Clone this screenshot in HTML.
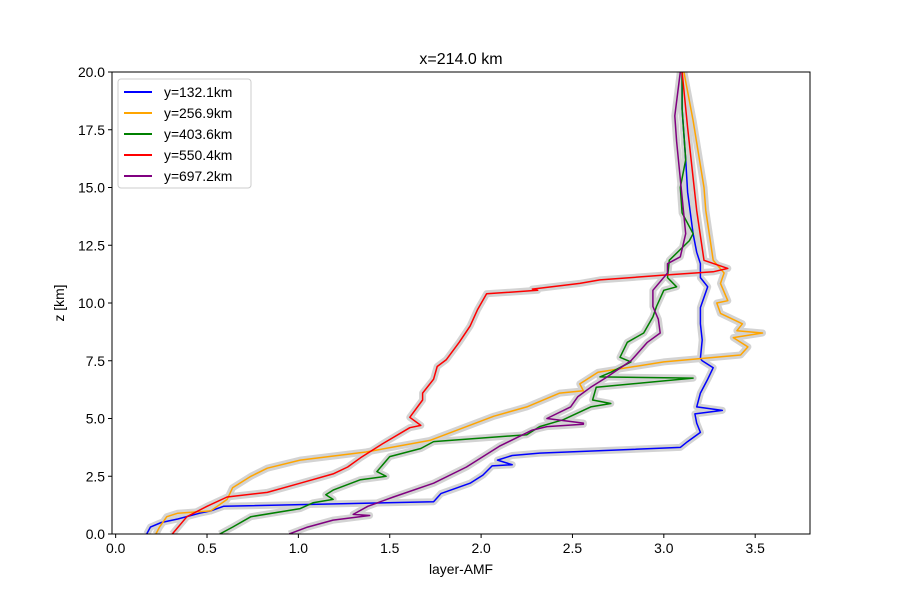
<!DOCTYPE html>
<html><head><meta charset="utf-8">
<style>
body{margin:0;background:#fff;}
svg{display:block;font-family:"Liberation Sans","DejaVu Sans",sans-serif;}
</style></head>
<body>
<svg id="chart" width="900" height="600" viewBox="0 0 900 600">
  <rect width="900" height="600" fill="#fff"/>
  <text x="461" y="64" font-size="16" text-anchor="middle">x=214.0 km</text>
  <g id="bands"></g>
  <g id="lines"></g>
  <g id="axes"></g>
  <text x="461" y="574" font-size="13.9" text-anchor="middle">layer-AMF</text>
  <text x="64" y="303" font-size="13.9" text-anchor="middle" transform="rotate(-90 64 303)">z [km]</text>
  <g id="legend"></g>
</svg>
<script>
const seriesNames = ["y=132.1km","y=256.9km","y=403.6km","y=550.4km","y=697.2km"];
const seriesColors = ["#0000ff","#ffa500","#008000","#ff0000","#800080"];
const xTicks = [0.0,0.5,1.0,1.5,2.0,2.5,3.0,3.5];
const yTicks = [0,2.5,5,7.5,10,12.5,15,17.5,20];
const blueZ = [0,0.3,0.5,0.65,0.9,1.0,1.2,1.4,1.75,2.2,2.55,2.95,3.0,3.2,3.4,3.5,3.75,4.0,4.4,4.8,5.2,5.35,5.5,6.1,6.7,7.2,7.5,7.6,8.4,9.1,9.8,10.7,11.1,11.7,12.2,13,14.8,16.2,18.4,20];
const blueX = [0.17,0.19,0.25,0.34,0.46,0.52,0.59,1.74,1.78,1.94,2.01,2.06,2.17,2.09,2.17,2.32,3.09,3.13,3.2,3.18,3.17,3.32,3.18,3.2,3.24,3.27,3.21,3.2,3.21,3.2,3.2,3.24,3.2,3.2,3.18,3.16,3.13,3.12,3.1,3.1];
const orangeZ = [0,0.3,0.75,0.9,1.0,1.5,2.0,2.5,2.85,3.2,3.55,4.05,5.1,5.5,6.1,6.2,6.5,7.0,7.45,7.75,8.1,8.5,8.7,8.8,9.1,9.55,10.0,10.1,10.85,11.3,11.85,14,15,17.9,20];
const orangeX = [0.22,0.24,0.28,0.34,0.52,0.61,0.64,0.74,0.83,1.01,1.37,1.72,2.07,2.25,2.43,2.56,2.54,2.64,3.0,3.42,3.46,3.38,3.54,3.40,3.43,3.31,3.29,3.35,3.31,3.33,3.27,3.23,3.22,3.16,3.11];
const greenZ = [0,0.3,0.75,1.1,1.35,1.5,1.7,1.9,2.35,2.5,2.7,3.35,3.7,4.0,4.3,4.65,4.95,5.5,5.65,5.8,6.35,6.75,6.8,7.0,7.45,7.65,8.3,8.7,9.4,9.85,10.55,10.7,11.1,11.85,12.7,13,13.9,15,16.2,18.4,20];
const greenX = [0.57,0.64,0.74,1.01,1.08,1.19,1.15,1.19,1.34,1.48,1.43,1.5,1.67,1.74,2.25,2.32,2.45,2.6,2.71,2.61,2.63,3.16,2.65,2.71,2.82,2.76,2.8,2.89,2.94,2.96,3.0,3.07,3.02,3.03,3.14,3.16,3.1,3.09,3.12,3.1,3.1];
const redZ = [0,0.75,1.2,1.6,1.8,2.2,2.6,2.9,3.3,3.9,4.6,4.7,5.05,5.8,6.1,6.7,7.25,7.55,8.3,9.0,9.7,10.4,10.55,10.6,10.85,11.0,11.2,11.35,11.5,11.85,14,17.6,20];
const redX = [0.31,0.39,0.5,0.61,0.83,1.01,1.19,1.27,1.34,1.46,1.61,1.67,1.61,1.68,1.68,1.74,1.76,1.81,1.88,1.94,1.98,2.03,2.31,2.28,2.54,2.65,2.99,3.27,3.35,3.22,3.18,3.13,3.1];
const purpleZ = [0,0.3,0.6,0.8,0.85,1.2,1.6,2.2,2.9,3.8,4.5,4.65,4.75,4.8,5.0,5.5,5.95,6.35,6.8,7.5,8.3,8.7,9.3,9.85,10.55,11.3,11.7,12.0,13,17,18.1,20];
const purpleX = [0.95,1.05,1.19,1.39,1.30,1.38,1.52,1.74,1.92,2.1,2.28,2.36,2.56,2.56,2.36,2.49,2.53,2.6,2.69,2.82,2.91,2.98,2.97,2.94,2.94,3.02,3.02,3.09,3.12,3.07,3.06,3.09];

const allZ = [blueZ,orangeZ,greenZ,redZ,purpleZ];
const allX = [blueX,orangeX,greenX,redX,purpleX];

const L=112,R=810,T=72,B=534,XMIN=-0.02,XMAX=3.8,YMIN=0,YMAX=20;
function sx(v){return L+(v-XMIN)/(XMAX-XMIN)*(R-L);}
function sy(v){return B-(v-YMIN)/(YMAX-YMIN)*(B-T);}
const NS="http://www.w3.org/2000/svg";
function mk(tag,attrs,parent){const e=document.createElementNS(NS,tag);for(const k in attrs)e.setAttribute(k,attrs[k]);parent.appendChild(e);return e;}

const bands=document.getElementById('bands'), lines=document.getElementById('lines');
const defs=mk('defs',{},document.getElementById('chart'));
const cp=mk('clipPath',{id:'clip'},defs);
mk('rect',{x:L,y:T,width:R-L,height:B-T},cp);
bands.setAttribute('clip-path','url(#clip)');
lines.setAttribute('clip-path','url(#clip)');
for(let s=0;s<allZ.length;s++){
  const pts=allZ[s].map((z,i)=>sx(allX[s][i]).toFixed(1)+","+sy(z).toFixed(1)).join(" ");
  const b=mk('polyline',{points:pts,fill:'none',stroke:'#d3d3d3','stroke-width':7,'stroke-linejoin':'round'},bands);
  
  
}
for(let s=0;s<allZ.length;s++){
  const pts=allZ[s].map((z,i)=>sx(allX[s][i]).toFixed(1)+","+sy(z).toFixed(1)).join(" ");
  const p=mk('polyline',{points:pts,fill:'none',stroke:seriesColors[s],'stroke-width':1.5,'stroke-linejoin':'round'},lines);
  
  
}
const axes=document.getElementById('axes');
const fr=mk('rect',{x:L,y:T,width:R-L,height:B-T,fill:'none',stroke:'#000','stroke-width':1},axes);


xTicks.forEach(v=>{
  const x=sx(v);
  mk('line',{x1:x,x2:x,y1:B,y2:B+4,stroke:'#000'},axes);
  const t=mk('text',{x:x,y:B+19,'font-size':13.9,'text-anchor':'middle'},axes);
  t.textContent=v.toFixed(1);
  
  
});
yTicks.forEach(v=>{
  const y=sy(v);
  mk('line',{x1:L-4,x2:L,y1:y,y2:y,stroke:'#000'},axes);
  const t=mk('text',{x:L-7,y:y+5,'font-size':13.9,'text-anchor':'end'},axes);
  t.textContent=v.toFixed(1);
  
  
});
const lg=document.getElementById('legend');
mk('rect',{x:118,y:79,width:133,height:109,rx:3,fill:'#fff','fill-opacity':0.8,stroke:'#ccc'},lg);
seriesNames.forEach((n,i)=>{
  const y=92+i*21;
  const g=mk('g',{},lg);
  
  
  mk('line',{x1:124,x2:152,y1:y,y2:y,stroke:seriesColors[i],'stroke-width':2},g);
  const t=mk('text',{x:164,y:y+5,'font-size':13.9},g);
  t.textContent=n;
});
</script>
</body></html>
